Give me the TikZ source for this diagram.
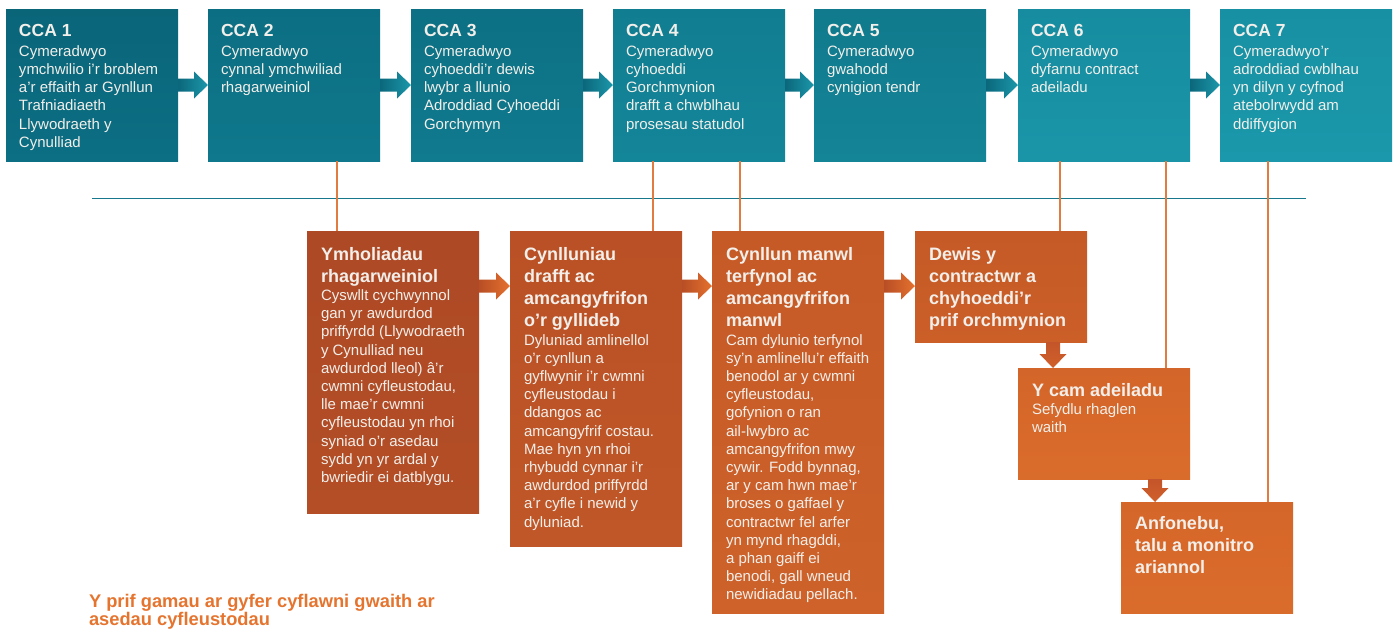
\documentclass[tikz,border=0pt]{standalone}
\usepackage{fontspec}
\setmainfont{Liberation Sans}
\usetikzlibrary{calc}
\definecolor{txt}{HTML}{F2EFEA}
\definecolor{capcol}{HTML}{E5742F}
\definecolor{conncol}{HTML}{E27B3F}
\definecolor{linecol}{HTML}{17788C}
\definecolor{taA}{HTML}{0A6579}\definecolor{taB}{HTML}{0C6F84}
\definecolor{tbA}{HTML}{0C6E82}\definecolor{tbB}{HTML}{0F788C}
\definecolor{tcA}{HTML}{0D7084}\definecolor{tcB}{HTML}{107A8E}
\definecolor{tdA}{HTML}{117D90}\definecolor{tdB}{HTML}{14869A}
\definecolor{teA}{HTML}{117A8D}\definecolor{teB}{HTML}{148497}
\definecolor{tfA}{HTML}{178CA0}\definecolor{tfB}{HTML}{1A95A8}
\definecolor{tgA}{HTML}{1890A3}\definecolor{tgB}{HTML}{1B98AB}
\definecolor{oaA}{HTML}{AD4925}\definecolor{oaB}{HTML}{B34E26}
\definecolor{obA}{HTML}{BA5126}\definecolor{obB}{HTML}{C05728}
\definecolor{ocA}{HTML}{C55A27}\definecolor{ocB}{HTML}{CE622A}
\definecolor{odA}{HTML}{C55A27}\definecolor{odB}{HTML}{CC5F28}
\definecolor{oeA}{HTML}{D4652A}\definecolor{oeB}{HTML}{DA6C2B}
\definecolor{ofA}{HTML}{D5662A}\definecolor{ofB}{HTML}{DA6C2B}
\definecolor{tarL}{HTML}{0B677B}\definecolor{tarR}{HTML}{1C97AA}
\definecolor{oarL}{HTML}{B84E25}\definecolor{oarR}{HTML}{E4712E}
\definecolor{darT}{HTML}{C4552A}\definecolor{darB}{HTML}{D0602A}
\newcommand{\ccatext}[2]{\parbox[t]{172pt}{\raggedright{\fontsize{17.5}{21}\bfseries #1\par}\vspace{1.7pt}{\fontsize{15}{18.3}\selectfont #2\par}}}
\newcommand{\otext}[2]{\parbox[t]{172pt}{\raggedright{\fontsize{18}{22.3}\bfseries #1\par}{\fontsize{15}{18.2}\selectfont #2\par}}}
\newcommand{\harrow}[3]{\path[#3] let \p1=#1, \p2=#2 in (\x1,\y1+6.5pt) -- (\x2-14pt,\y1+6.5pt) -- (\x2-14pt,\y1+13.5pt) -- (\x2,\y1) -- (\x2-14pt,\y1-13.5pt) -- (\x2-14pt,\y1-6.5pt) -- (\x1,\y1-6.5pt) -- cycle;}
\newcommand{\varrow}[3]{\path[#3] let \p1=#1, \p2=#2 in (\x1-7pt,\y1) -- (\x1-7pt,\y2+14pt) -- (\x1-13.5pt,\y2+14pt) -- (\x1,\y2) -- (\x1+13.5pt,\y2+14pt) -- (\x1+7pt,\y2+14pt) -- (\x1+7pt,\y1) -- cycle;}
\begin{document}
\begin{tikzpicture}[x=1pt,y=-1pt,
  box/.style={draw=none, inner sep=0pt, outer sep=0pt, anchor=north west, minimum width=172pt},
  lbl/.style={inner sep=0pt, outer sep=0pt, anchor=base west, text=txt},
  conn/.style={draw=conncol, line width=1.4pt},
  hline/.style={draw=linecol, line width=1.6pt},
  tarrow/.style={left color=tarL, right color=tarR},
  oarrow/.style={left color=oarL, right color=oarR},
  darrow/.style={top color=darT, bottom color=darB},
  ]
\useasboundingbox (0,0) rectangle (1397,633);
% top row
\node[box, minimum height=152pt, top color=taA, bottom color=taB] (c1) at (6,9) {};
\node[box, minimum height=152pt, top color=tbA, bottom color=tbB] (c2) at (208,9) {};
\node[box, minimum height=152pt, top color=tcA, bottom color=tcB] (c3) at (411,9) {};
\node[box, minimum height=152pt, top color=tdA, bottom color=tdB] (c4) at (613,9) {};
\node[box, minimum height=152pt, top color=teA, bottom color=teB] (c5) at (814,9) {};
\node[box, minimum height=152pt, top color=tfA, bottom color=tfB] (c6) at (1018,9) {};
\node[box, minimum height=152pt, top color=tgA, bottom color=tgB] (c7) at (1220,9) {};
\node[lbl] (c1t) at ($(c1.north west)+(13,27)$) {\ccatext{CCA 1}{Cymeradwyo\\ymchwilio i’r broblem\\a’r effaith ar Gynllun\\Trafniadiaeth\\Llywodraeth y\\Cynulliad}};
\node[lbl] (c2t) at ($(c2.north west)+(13,27)$) {\ccatext{CCA 2}{Cymeradwyo\\cynnal ymchwiliad\\rhagarweiniol}};
\node[lbl] (c3t) at ($(c3.north west)+(13,27)$) {\ccatext{CCA 3}{Cymeradwyo\\cyhoeddi’r dewis\\lwybr a llunio\\Adroddiad Cyhoeddi\\Gorchymyn}};
\node[lbl] (c4t) at ($(c4.north west)+(13,27)$) {\ccatext{CCA 4}{Cymeradwyo\\cyhoeddi\\Gorchmynion\\drafft a chwblhau\\prosesau statudol}};
\node[lbl] (c5t) at ($(c5.north west)+(13,27)$) {\ccatext{CCA 5}{Cymeradwyo\\gwahodd\\cynigion tendr}};
\node[lbl] (c6t) at ($(c6.north west)+(13,27)$) {\ccatext{CCA 6}{Cymeradwyo\\dyfarnu contract\\adeiladu}};
\node[lbl] (c7t) at ($(c7.north west)+(13,27)$) {\ccatext{CCA 7}{Cymeradwyo’r\\adroddiad cwblhau\\yn dilyn y cyfnod\\atebolrwydd am\\ddiffygion}};
\harrow{(c1.east)}{(c2.west)}{tarrow}
\harrow{(c2.east)}{(c3.west)}{tarrow}
\harrow{(c3.east)}{(c4.west)}{tarrow}
\harrow{(c4.east)}{(c5.west)}{tarrow}
\harrow{(c5.east)}{(c6.west)}{tarrow}
\harrow{(c6.east)}{(c7.west)}{tarrow}
% divider
\coordinate (hl) at (92,198.5);
\coordinate (hr) at (1305.5,198.5);
\draw[hline] (hl) -- (hr);
% orange boxes
\node[box, minimum height=282pt, top color=oaA, bottom color=oaB] (o1) at (307,231) {};
\node[box, minimum height=315pt, top color=obA, bottom color=obB] (o2) at (510,231) {};
\node[box, minimum height=382pt, top color=ocA, bottom color=ocB] (o3) at (712,231) {};
\node[box, minimum height=111pt, top color=odA, bottom color=odB] (dw) at (915,231) {};
\node[box, minimum height=111pt, top color=oeA, bottom color=oeB] (yc) at (1018,368) {};
\node[box, minimum height=111pt, top color=ofA, bottom color=ofB] (an) at (1121,502) {};
\node[lbl] (o1t) at ($(o1.north west)+(14,29)$) {\otext{Ymholiadau\\rhagarweiniol}{Cyswllt cychwynnol\\gan yr awdurdod\\priffyrdd (Llywodraeth\\y Cynulliad neu\\awdurdod lleol) â’r\\cwmni cyfleustodau,\\lle mae’r cwmni\\cyfleustodau yn rhoi\\syniad o’r asedau\\sydd yn yr ardal y\\bwriedir ei datblygu.}};
\node[lbl] (o2t) at ($(o2.north west)+(14,29)$) {\otext{Cynlluniau\\drafft ac\\amcangyfrifon\\o’r gyllideb}{Dyluniad amlinellol\\o’r cynllun a\\gyflwynir i’r cwmni\\cyfleustodau i\\ddangos ac\\amcangyfrif costau.\\Mae hyn yn rhoi\\rhybudd cynnar i’r\\awdurdod priffyrdd\\a’r cyfle i newid y\\dyluniad.}};
\node[lbl] (o3t) at ($(o3.north west)+(14,29)$) {\otext{Cynllun manwl\\terfynol ac\\amcangyfrifon\\manwl}{Cam dylunio terfynol\\sy’n amlinellu’r effaith\\benodol ar y cwmni\\cyfleustodau,\\gofynion o ran\\ail-lwybro ac\\amcangyfrifon mwy\\cywir. Fodd bynnag,\\ar y cam hwn mae’r\\broses o gaffael y\\contractwr fel arfer\\yn mynd rhagddi,\\a phan gaiff ei\\benodi, gall wneud\\newidiadau pellach.}};
\node[lbl] (dwt) at ($(dw.north west)+(14,29)$) {\otext{Dewis y\\contractwr a\\chyhoeddi’r\\prif orchmynion}{}};
\node[lbl] (yct) at ($(yc.north west)+(14,28)$) {\otext{Y cam adeiladu}{Sefydlu rhaglen\\waith}};
\node[lbl] (ant) at ($(an.north west)+(14,27)$) {\otext{Anfonebu,\\talu a monitro\\ariannol}{}};
\harrow{($(o1.north east)+(0,55)$)}{(o2.west)}{oarrow}
\harrow{($(o2.north east)+(0,55)$)}{(o3.west)}{oarrow}
\harrow{($(o3.north east)+(0,55)$)}{(dw.west)}{oarrow}
\varrow{($(dw.south west)+(138,0)$)}{(yc.north)}{darrow}
\varrow{($(yc.south west)+(137,0)$)}{(an.north)}{darrow}
% connectors
\coordinate (k1) at ($(c2.south west)+(129,0)$);
\coordinate (k2) at ($(c4.south west)+(40,0)$);
\coordinate (k3) at ($(c4.south west)+(127,0)$);
\coordinate (k4) at ($(c6.south west)+(42,0)$);
\coordinate (k5) at ($(c6.south west)+(148,0)$);
\coordinate (k6) at ($(c7.south west)+(48,0)$);
\draw[conn] (k1) -- (k1 |- o1.north);
\draw[conn] (k2) -- (k2 |- o2.north);
\draw[conn] (k3) -- (k3 |- o3.north);
\draw[conn] (k4) -- (k4 |- dw.north);
\draw[conn] (k5) -- (k5 |- yc.north);
\draw[conn] (k6) -- (k6 |- an.north);
% caption
\node[lbl, text=capcol] (cap) at (89,607.5) {\parbox[t]{400pt}{\raggedright\fontsize{18.3}{15.8}\bfseries Y prif gamau ar gyfer cyflawni gwaith ar\\asedau cyfleustodau}};
\end{tikzpicture}
\end{document}
